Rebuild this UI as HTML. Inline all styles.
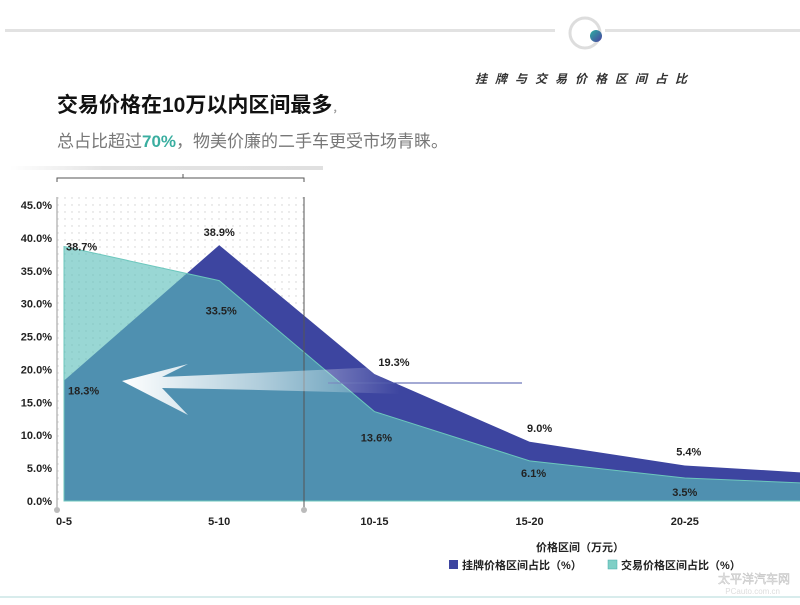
<!DOCTYPE html>
<html><head><meta charset="utf-8">
<style>
html,body{margin:0;padding:0;background:#fff;}
body{width:800px;height:600px;overflow:hidden;position:relative;font-family:"Liberation Sans","Noto Sans CJK SC",sans-serif;}
</style></head>
<body>
<svg id="chart" width="800" height="600" viewBox="0 0 800 600" xmlns="http://www.w3.org/2000/svg">
<defs>
<pattern id="dots" width="7" height="7" patternUnits="userSpaceOnUse"><circle cx="2" cy="2" r="0.7" fill="#cfcfcf"/></pattern>
<linearGradient id="arrowGrad" x1="0" x2="1" y1="0" y2="0">
<stop offset="0" stop-color="#fff" stop-opacity="1"/>
<stop offset="0.5" stop-color="#fff" stop-opacity="0.55"/>
<stop offset="1" stop-color="#fff" stop-opacity="0"/>
</linearGradient>
<linearGradient id="topLine" x1="0" x2="1"><stop offset="0" stop-color="#fff"/><stop offset="0.3" stop-color="#e4e4e4"/><stop offset="1" stop-color="#e0e0e0"/></linearGradient>
<linearGradient id="ball" x1="0" x2="1" y1="0" y2="1"><stop offset="0" stop-color="#2bb0a0"/><stop offset="1" stop-color="#4a3fa0"/></linearGradient>
</defs>
<rect x="5" y="29" width="550" height="3" fill="#e2e2e2"/>
<rect x="605" y="29" width="195" height="3" fill="#e2e2e2"/>
<circle cx="585" cy="33" r="15" fill="none" stroke="#dddddd" stroke-width="3"/>
<circle cx="596" cy="36" r="6" fill="url(#ball)"/>
<text x="695" y="83" font-size="12" font-style="italic" font-weight="bold" fill="#333" text-anchor="end" letter-spacing="8">挂牌与交易价格区间占比</text>
<text x="57" y="112" font-size="21" font-weight="bold" fill="#111">交易价格在10万以内区间最多<tspan font-size="10" fill="#999">，</tspan></text>
<text x="57" y="147" font-size="17" fill="#777">总占比超过<tspan fill="#3aaea0" font-weight="bold">70%</tspan>，物美价廉的二手车更受市场青睐。</text>
<rect x="10" y="166" width="313" height="4" fill="url(#topLine)"/>
<path d="M57 182 V178 H304 V182 M183 178 V174" fill="none" stroke="#555" stroke-width="1"/>
<rect x="57" y="197" width="247" height="304" fill="url(#dots)"/>
<line x1="57" y1="197" x2="57" y2="510" stroke="#bbb" stroke-width="1.5"/>
<circle cx="57" cy="510" r="3" fill="#bbb"/>
<g id="areas"></g>
<line x1="304" y1="197" x2="304" y2="510" stroke="#555" stroke-width="1"/>
<circle cx="304" cy="510" r="3" fill="#bbb"/>
<line x1="328" y1="383" x2="522" y2="383" stroke="#4a55a8" stroke-width="1"/>
<path d="M122 381 L188 364 L162 377 Q280 372 400 366 L400 394 Q280 390 162 388 L188 415 Z" fill="url(#arrowGrad)"/>
<g id="yticks"></g><g id="xticks"></g><g id="labels"></g>
<text x="580" y="551" font-size="11" font-weight="bold" fill="#222" text-anchor="middle">价格区间（万元）</text>
<rect x="449" y="560" width="9" height="9" fill="#3d45a0"/>
<text x="462" y="569" font-size="11" font-weight="bold" fill="#222">挂牌价格区间占比（%）</text>
<rect x="608" y="560" width="9" height="9" fill="#7fcfc6" stroke="#4aa" stroke-width="0.5"/>
<text x="621" y="569" font-size="11" font-weight="bold" fill="#222">交易价格区间占比（%）</text>
<text x="790" y="583" font-size="12" fill="#e8e8e8" stroke="#bbb" stroke-width="0.4" text-anchor="end">太平洋汽车网</text>
<text x="780" y="594" font-size="8" fill="#ddd" text-anchor="end">PCauto.com.cn</text>
<rect x="0" y="596" width="800" height="2" fill="#d8ecec"/>
</svg>
<script>
const categories = ["0-5","5-10","10-15","15-20","20-25","25-30"];
const listingValues = [18.3,38.9,19.3,9.0,5.4,4.0];
const transactionValues = [38.7,33.5,13.6,6.1,3.5,2.5];
const yTickValues = [0,5,10,15,20,25,30,35,40,45];
const listingLabels = ["18.3%","38.9%","19.3%","9.0%","5.4%"];
const transactionLabels = ["38.7%","33.5%","13.6%","6.1%","3.5%"];

const NS="http://www.w3.org/2000/svg";
const x0=64, xStep=155.2, yBase=501, pxPer=296/45;
function xs(i){return x0+i*xStep;}
function ys(v){return yBase-v*pxPer;}
function mk(tag,attrs,parent){const e=document.createElementNS(NS,tag);for(const k in attrs)e.setAttribute(k,attrs[k]);parent.appendChild(e);return e;}
const areas=document.getElementById('areas');
function areaPath(vals){let d="M"+xs(0)+" "+yBase;vals.forEach((v,i)=>{d+=" L"+xs(i)+" "+ys(v);});d+=" L"+xs(vals.length-1)+" "+yBase+" Z";return d;}
const a1=mk('path',{d:areaPath(listingValues),fill:'#3d45a0'},areas);


const a2=mk('path',{d:areaPath(transactionValues),fill:'rgb(90,190,185)','fill-opacity':'0.62',stroke:'#6cc7bd','stroke-width':'1'},areas);


const yt=document.getElementById('yticks');
yTickValues.forEach(v=>{
  const t=mk('text',{x:52,y:ys(v)+4,'font-size':'11','font-weight':'bold',fill:'#222','text-anchor':'end'},yt);
  t.textContent=v.toFixed(1)+"%";
  
  
});
const xt=document.getElementById('xticks');
categories.forEach((c,i)=>{
  const t=mk('text',{x:xs(i),y:525,'font-size':'11','font-weight':'bold',fill:'#222','text-anchor':'middle'},xt);
  t.textContent=c;
  
  
});
const lb=document.getElementById('labels');
const lOff=[[4,-14,'start'],[0,-9,'middle'],[4,-8,'start'],[10,-10,'middle'],[4,-10,'middle']];
listingLabels.forEach((s,i)=>{
  const o=lOff[i];
  const t=mk('text',{x:xs(i)+o[0],y:ys(listingValues[i])+o[1]+ (i===0?28:0),'font-size':'11','font-weight':'bold',fill:'#222','text-anchor':o[2]},lb);
  t.textContent=s;
  
  
});
const tOff=[[2,4,'start'],[2,34,'middle'],[2,30,'middle'],[4,16,'middle'],[0,18,'middle']];
transactionLabels.forEach((s,i)=>{
  const o=tOff[i];
  const t=mk('text',{x:xs(i)+o[0],y:ys(transactionValues[i])+o[1],'font-size':'11','font-weight':'bold',fill:'#222','text-anchor':o[2]},lb);
  t.textContent=s;
  
  
});
</script>
</body></html>
